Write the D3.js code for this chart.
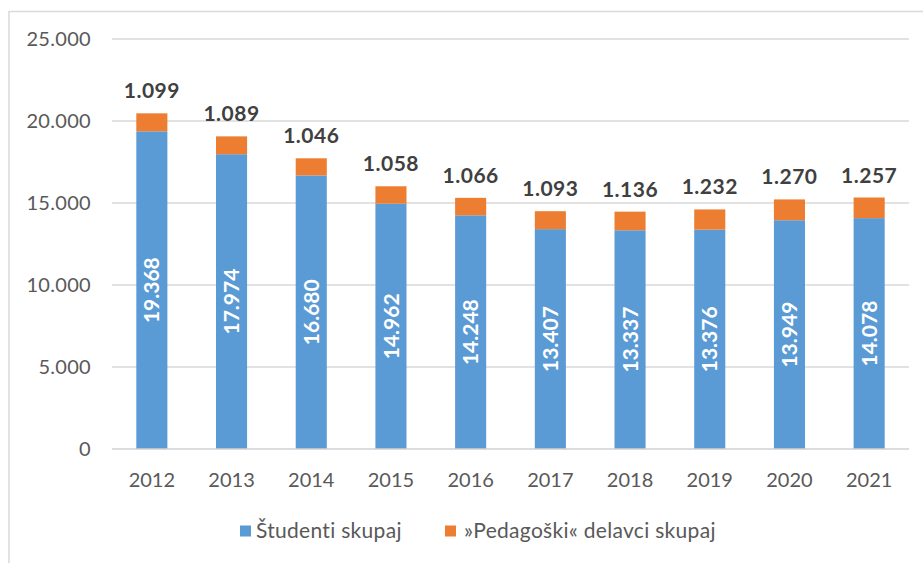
<!DOCTYPE html>
<html>
<head>
<meta charset="utf-8">
<script src="https://cdn.jsdelivr.net/npm/d3@7"></script>
<style>
  html, body { margin: 0; padding: 0; background: #fff; }
  svg { display: block; font-family: Lato, "Open Sans", sans-serif; }
</style>
</head>
<body>
<svg id="chart" width="923" height="563"></svg>
<script>
"use strict";
// stacked columns: students + teaching staff per year
const years = ["2012", "2013", "2014", "2015", "2016", "2017", "2018", "2019", "2020", "2021"];
const students = [19368, 17974, 16680, 14962, 14248, 13407, 13337, 13376, 13949, 14078];
const staff = [1099, 1089, 1046, 1058, 1066, 1093, 1136, 1232, 1270, 1257];
const yTicks = [0, 5000, 10000, 15000, 20000, 25000];
const seriesNames = ["Študenti skupaj", "»Pedagoški« delavci skupaj"];
const colors = ["#5B9BD5", "#ED7D31"];

const fmt = (n) => d3.format(",")(n).replace(/,/g, ".");

const svg = d3.select("#chart");
const m = { left: 112, right: 14, top: 39, bottom: 114 };
const W = 923, H = 563;

// outer chart border (only top + left visible in the crop)
svg.append("path").attr("d", `M9,${H} V11.5 H${W}`)
  .attr("fill", "none").attr("stroke", "#d9d9d9").attr("stroke-width", 1.5);

const x = d3.scaleBand().domain(years).range([m.left, W - m.right]).paddingInner(0.61).paddingOuter(0.305);
const y = d3.scaleLinear().domain([0, 25000]).range([H - m.bottom, m.top]);

// gridlines
svg.append("g").selectAll("line").data(yTicks.filter((t) => t > 0)).enter().append("line")
  .attr("x1", m.left).attr("x2", W - m.right)
  .attr("y1", (d) => y(d)).attr("y2", (d) => y(d))
  .attr("stroke", "#d9d9d9").attr("stroke-width", 1.3);

// y tick labels
svg.append("g").selectAll("text").data(yTicks).enter().append("text")
  .attr("x", 91).attr("y", (d) => y(d)).attr("dy", "0.35em")
  .attr("text-anchor", "end").attr("fill", "#595959").attr("font-size", 20).attr("letter-spacing", 0.3)
  .text((d) => fmt(d));

const rows = years.map((yr, i) => ({ year: yr, s: students[i], p: staff[i] }));
const bw = x.bandwidth();

// student segment
svg.append("g").selectAll("rect").data(rows).enter().append("rect")
  .attr("x", (d) => x(d.year)).attr("width", bw)
  .attr("y", (d) => y(d.s)).attr("height", (d) => y(0) - y(d.s))
  .attr("fill", colors[0]);

// staff segment on top
svg.append("g").selectAll("rect").data(rows).enter().append("rect")
  .attr("x", (d) => x(d.year)).attr("width", bw)
  .attr("y", (d) => y(d.s + d.p)).attr("height", (d) => y(d.s) - y(d.s + d.p))
  .attr("fill", colors[1]);

// zero axis line
svg.append("line").attr("x1", m.left).attr("x2", W - m.right)
  .attr("y1", y(0)).attr("y2", y(0)).attr("stroke", "#d0d0d0").attr("stroke-width", 1.5);

// rotated student labels inside the blue segment
svg.append("g").selectAll("text").data(rows).enter().append("text")
  .attr("transform", (d) => `translate(${x(d.year) + bw / 2},${(y(0) + y(d.s)) / 2}) rotate(-90)`)
  .attr("text-anchor", "middle").attr("dy", "0.36em")
  .attr("fill", "#fff").attr("font-weight", "bold").attr("font-size", 21)
  .text((d) => fmt(d.s));

// staff labels above the stack
svg.append("g").selectAll("text").data(rows).enter().append("text")
  .attr("x", (d) => x(d.year) + bw / 2).attr("y", (d) => y(d.s + d.p) - 15)
  .attr("text-anchor", "middle").attr("fill", "#404040")
  .attr("font-weight", "bold").attr("font-size", 21).attr("letter-spacing", 0.5)
  .text((d) => fmt(d.p));

// x axis labels
svg.append("g").selectAll("text").data(years).enter().append("text")
  .attr("x", (d) => x(d) + bw / 2).attr("y", 480).attr("dy", "0.35em")
  .attr("text-anchor", "middle").attr("fill", "#595959").attr("font-size", 20)
  .text((d) => d);

// legend
const legX = [240, 445];
const leg = svg.append("g").selectAll("g").data(seriesNames).enter().append("g")
  .attr("transform", (d, i) => `translate(${legX[i]},531)`);
leg.append("rect").attr("x", 0).attr("y", -5.5).attr("width", 11).attr("height", 11)
  .attr("fill", (d, i) => colors[i]);
leg.append("text").attr("x", (d, i) => (i ? 19 : 16)).attr("dy", "0.35em")
  .attr("fill", "#595959").attr("font-size", 21).attr("letter-spacing", 0.3)
  .text((d) => d);
</script>
</body>
</html>
